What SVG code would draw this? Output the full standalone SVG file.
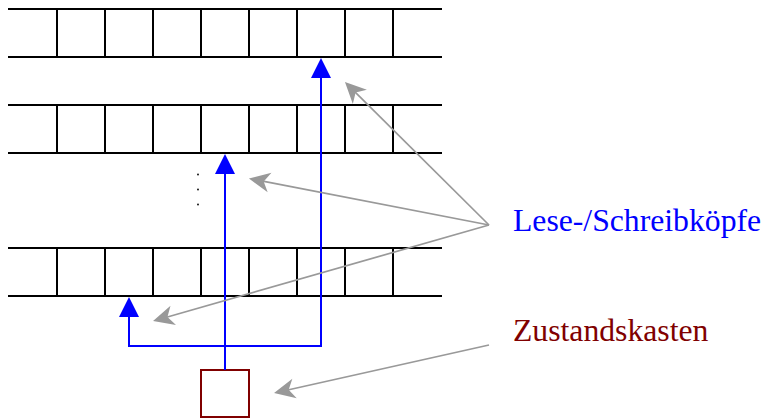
<svg xmlns="http://www.w3.org/2000/svg" width="764" height="418" viewBox="0 0 764 418">
  <style>
    .tape line { stroke: #000; stroke-width: 2; }
    .head { fill: none; stroke: #0000ff; stroke-width: 2; }
    .pointer { fill: none; stroke: #999999; stroke-width: 1.7; }
    .label { font-family: "Liberation Serif", "Times New Roman", serif; font-size: 31.7px; }
  </style>
  <defs>
    <marker id="tri" markerUnits="userSpaceOnUse" viewBox="0 -11 21 22" markerWidth="21" markerHeight="22" refX="0" refY="0" orient="auto">
      <path d="M0,-10 L20,0 L0,10 Z" fill="#0000ff"/>
    </marker>
    <marker id="stealth" markerUnits="userSpaceOnUse" viewBox="-23 -12 25 24" markerWidth="25" markerHeight="24" refX="-14" refY="0" orient="auto">
      <path d="M0,0 L-21,-10 L-15,0 L-21,10 Z" fill="#999999"/>
    </marker>
  </defs>

  <!-- tape 1 -->
  <g id="tape1" class="tape">
    <line x1="8" y1="9" x2="442" y2="9"/>
    <line x1="8" y1="57" x2="442" y2="57"/>
    <line x1="57" y1="9" x2="57" y2="57"/>
    <line x1="105" y1="9" x2="105" y2="57"/>
    <line x1="153" y1="9" x2="153" y2="57"/>
    <line x1="201" y1="9" x2="201" y2="57"/>
    <line x1="249" y1="9" x2="249" y2="57"/>
    <line x1="297" y1="9" x2="297" y2="57"/>
    <line x1="345" y1="9" x2="345" y2="57"/>
    <line x1="393" y1="9" x2="393" y2="57"/>
  </g>

  <!-- tape 2 -->
  <g id="tape2" class="tape">
    <line x1="8" y1="105" x2="442" y2="105"/>
    <line x1="8" y1="153" x2="442" y2="153"/>
    <line x1="57" y1="105" x2="57" y2="153"/>
    <line x1="105" y1="105" x2="105" y2="153"/>
    <line x1="153" y1="105" x2="153" y2="153"/>
    <line x1="201" y1="105" x2="201" y2="153"/>
    <line x1="249" y1="105" x2="249" y2="153"/>
    <line x1="297" y1="105" x2="297" y2="153"/>
    <line x1="345" y1="105" x2="345" y2="153"/>
    <line x1="393" y1="105" x2="393" y2="153"/>
  </g>

  <!-- vertical ellipsis between tapes -->
  <g id="vdots" fill="#000">
    <circle cx="198" cy="174.5" r="0.9"/>
    <circle cx="198" cy="189.5" r="0.9"/>
    <circle cx="198" cy="204.5" r="0.9"/>
  </g>

  <!-- tape 3 -->
  <g id="tape3" class="tape">
    <line x1="8" y1="248" x2="442" y2="248"/>
    <line x1="8" y1="296" x2="442" y2="296"/>
    <line x1="57" y1="248" x2="57" y2="296"/>
    <line x1="105" y1="248" x2="105" y2="296"/>
    <line x1="153" y1="248" x2="153" y2="296"/>
    <line x1="201" y1="248" x2="201" y2="296"/>
    <line x1="249" y1="248" x2="249" y2="296"/>
    <line x1="297" y1="248" x2="297" y2="296"/>
    <line x1="345" y1="248" x2="345" y2="296"/>
    <line x1="393" y1="248" x2="393" y2="296"/>
  </g>

  <!-- finite control -->
  <g id="state-box">
    <rect x="201" y="370" width="48" height="47" fill="none" stroke="#800000" stroke-width="2"/>
  </g>

  <!-- labels -->
  <g id="label-heads">
    <text class="label" x="513" y="230.7" fill="#0000ff">Lese-/Schreibköpfe</text>
  </g>
  <g id="label-state">
    <text class="label" x="513" y="340.7" fill="#800000">Zustandskasten</text>
  </g>

  <!-- connectors -->
  <g id="connectors">
    <!-- read/write heads -->
    <path class="head" d="M225,370 V174" marker-end="url(#tri)"/>
    <path class="head" d="M225,346 H321 V78" marker-end="url(#tri)"/>
    <path class="head" d="M225,346 H129 V317" marker-end="url(#tri)"/>
    <!-- label pointers -->
    <line class="pointer" x1="489" y1="225" x2="354.9" y2="91.9" marker-end="url(#stealth)"/>
    <line class="pointer" x1="489" y1="225" x2="262.7" y2="181.2" marker-end="url(#stealth)"/>
    <line class="pointer" x1="489" y1="225" x2="166.5" y2="317.2" marker-end="url(#stealth)"/>
    <line class="pointer" x1="489" y1="345" x2="287.7" y2="390" marker-end="url(#stealth)"/>
  </g>
</svg>
